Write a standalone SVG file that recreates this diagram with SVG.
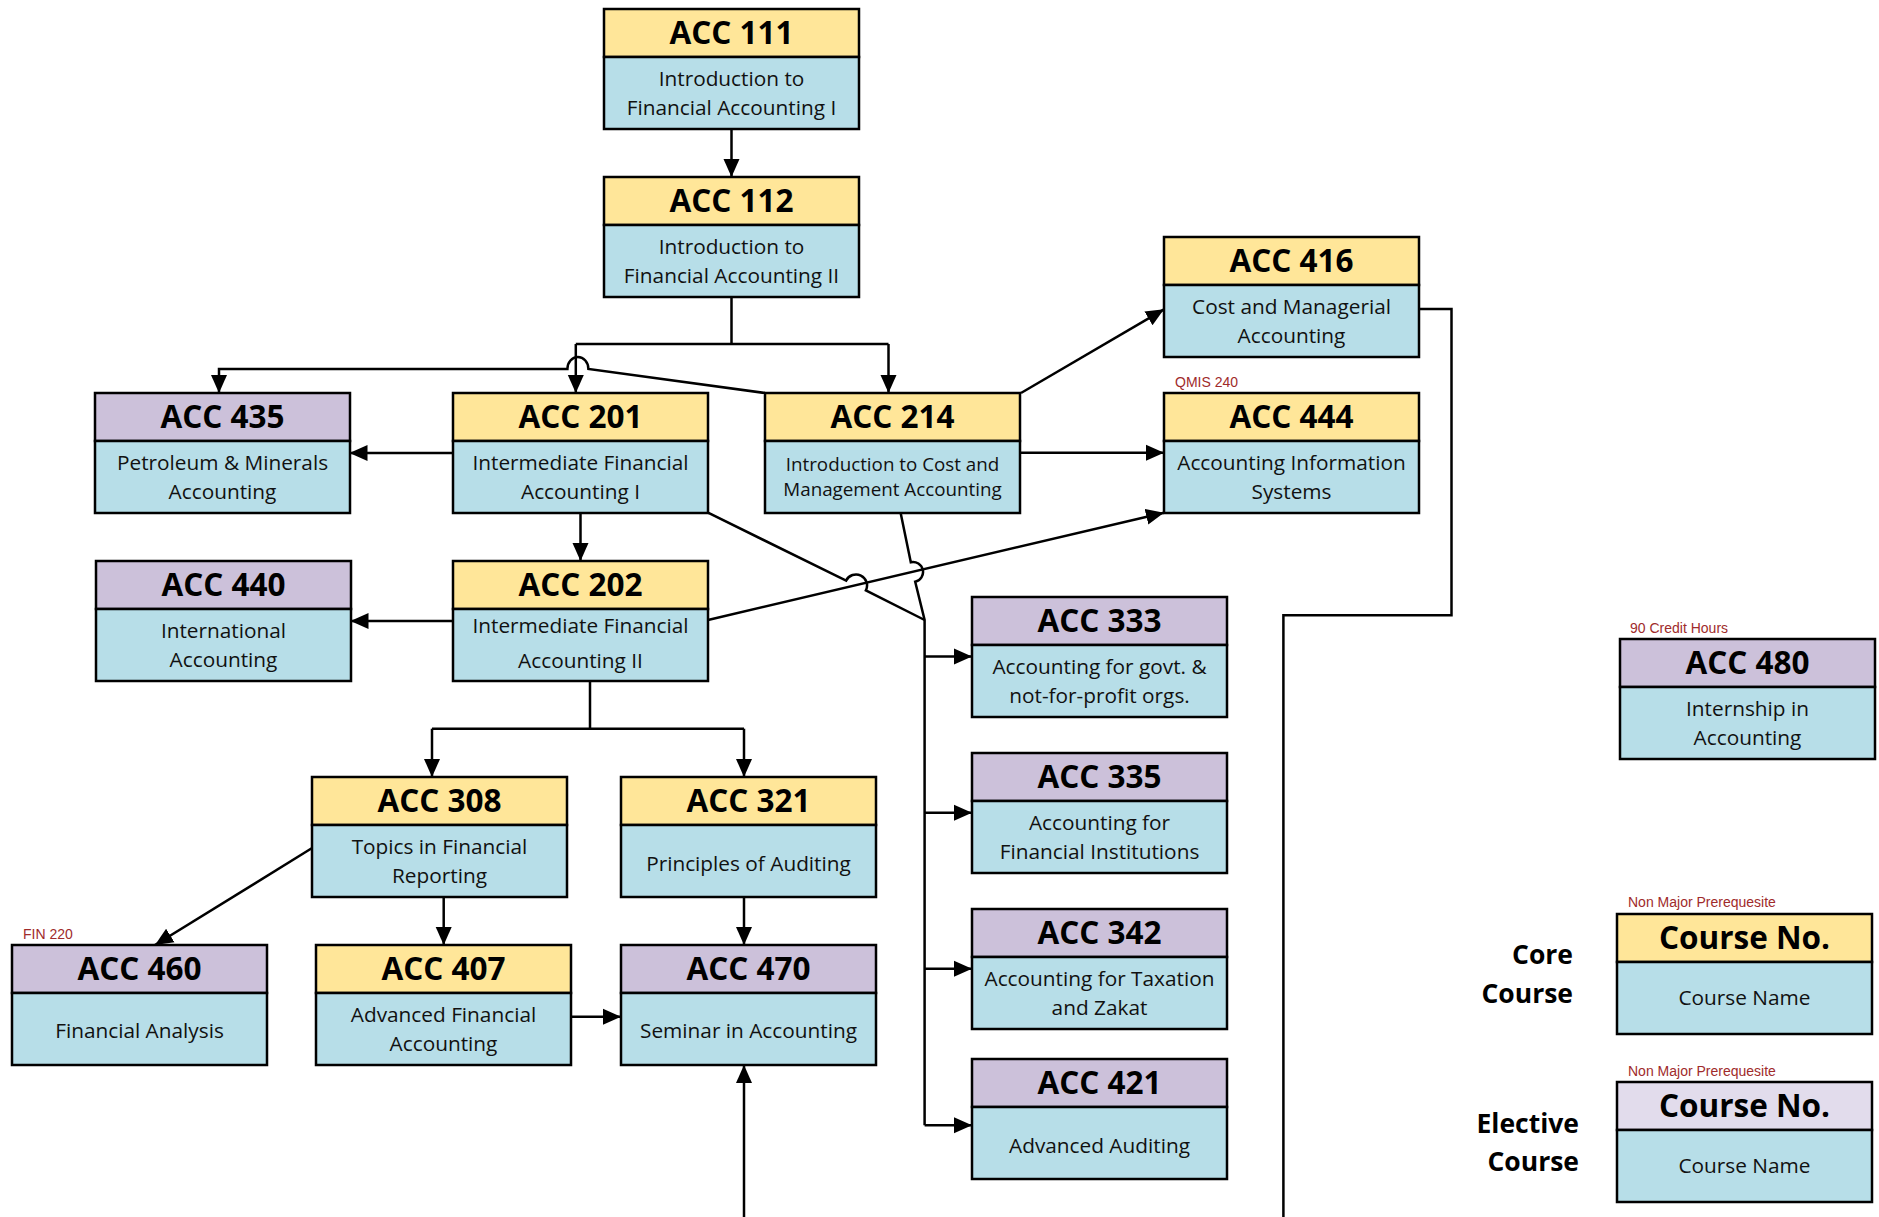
<svg xmlns="http://www.w3.org/2000/svg" width="1879" height="1217" viewBox="0 0 1879 1217">
<style>
.core{fill:#FFE699;stroke:#000;stroke-width:2.5}
.elec{fill:#CCC1DA;stroke:#000;stroke-width:2.5}
.elec2{fill:#E2DCEC;stroke:#000;stroke-width:2.5}
.body{fill:#B7DEE8;stroke:#000;stroke-width:2.5}
.h{font-family:"Open Sans","Liberation Sans",sans-serif;font-weight:700;font-size:31.5px;text-anchor:middle;fill:#000}
.t{font-family:"Open Sans","Liberation Sans",sans-serif;font-size:20.8px;text-anchor:middle;fill:#111}
.ts{font-family:"Open Sans","Liberation Sans",sans-serif;font-size:18.8px;text-anchor:middle;fill:#111}
.r{font-family:"Liberation Sans",Arial,sans-serif;font-size:14px;fill:#A02B2B}
.lg{font-family:"Open Sans","Liberation Sans",sans-serif;font-weight:700;font-size:26.5px;text-anchor:end;fill:#000}
.c{fill:none;stroke:#000;stroke-width:2.5}
.a{marker-end:url(#ah)}
</style>
<defs>
<marker id="ah" markerUnits="userSpaceOnUse" markerWidth="19" markerHeight="19" viewBox="0 0 19 19" refX="18" refY="9.5" orient="auto"><path d="M0,1.5 L18,9.5 L0,17.5 z" fill="#000"/></marker>
</defs>
<rect width="1879" height="1217" fill="#fff"/>
<g id="connectors">
<path class="c a" d="M731.5,129 V177"/>
<path class="c" d="M731.5,296 V344 M575.8,344 H888.5"/>
<path class="c a" d="M575.8,344 V393"/>
<path class="c a" d="M888.5,344 V393"/>
<path class="c a" d="M765,393 L588.4,369 A10.5,12 0 0 0 567.4,369 H219 V393"/>
<path class="c a" d="M453,453 H349.5"/>
<path class="c a" d="M580.5,513 V561"/>
<path class="c a" d="M453,621 H350.5"/>
<path class="c a" d="M1021,393 L1164,309.3"/>
<path class="c a" d="M1021,452.7 H1164"/>
<path class="c a" d="M708,620 L1164,512.7"/>
<path class="c" d="M708,512.7 L846.1,580.6 A11,11 0 0 1 865.9,590.4 L924.6,620"/>
<path class="c" d="M900.6,512.7 L910.8,562.2 A10,10 0 0 1 915.2,581.8 L924.6,620 V1125.3"/>
<path class="c a" d="M924.6,656.4 H972"/>
<path class="c a" d="M924.6,812.8 H972"/>
<path class="c a" d="M924.6,968.8 H972"/>
<path class="c a" d="M924.6,1125.3 H972"/>
<path class="c" d="M1419,309 H1451.5 V615.3 H1283.4 V1217"/>
<path class="c" d="M590,681 V728.7 M432,728.7 H744"/>
<path class="c a" d="M432,728.7 V777"/>
<path class="c a" d="M744,728.7 V777"/>
<path class="c a" d="M443.7,897 V945"/>
<path class="c a" d="M744,897 V945"/>
<path class="c a" d="M571,1016.7 H621"/>
<path class="c a" d="M311.7,848.3 L155,945"/>
<path class="c a" d="M744,1217 V1065"/>
</g>
<g id="acc111" transform="translate(604,9)"><rect class="core" width="255" height="48"/><rect class="body" y="48" width="255" height="72"/><text class="h" x="127.5" y="35">ACC 111</text><text class="t" x="127.5" y="77">Introduction to</text><text class="t" x="127.5" y="106">Financial Accounting I</text></g>
<g id="acc112" transform="translate(604,177)"><rect class="core" width="255" height="48"/><rect class="body" y="48" width="255" height="72"/><text class="h" x="127.5" y="35">ACC 112</text><text class="t" x="127.5" y="77">Introduction to</text><text class="t" x="127.5" y="106">Financial Accounting II</text></g>
<g id="acc435" transform="translate(95,393)"><rect class="elec" width="255" height="48"/><rect class="body" y="48" width="255" height="72"/><text class="h" x="127.5" y="35">ACC 435</text><text class="t" x="127.5" y="77">Petroleum &amp; Minerals</text><text class="t" x="127.5" y="106">Accounting</text></g>
<g id="acc201" transform="translate(453,393)"><rect class="core" width="255" height="48"/><rect class="body" y="48" width="255" height="72"/><text class="h" x="127.5" y="35">ACC 201</text><text class="t" x="127.5" y="77">Intermediate Financial</text><text class="t" x="127.5" y="106">Accounting I</text></g>
<g id="acc214" transform="translate(765,393)"><rect class="core" width="255" height="48"/><rect class="body" y="48" width="255" height="72"/><text class="h" x="127.5" y="35">ACC 214</text><text class="ts" x="127.5" y="77.5">Introduction to Cost and</text><text class="ts" x="127.5" y="103">Management Accounting</text></g>
<g id="acc416" transform="translate(1164,237)"><rect class="core" width="255" height="48"/><rect class="body" y="48" width="255" height="72"/><text class="h" x="127.5" y="35">ACC 416</text><text class="t" x="127.5" y="77">Cost and Managerial</text><text class="t" x="127.5" y="106">Accounting</text></g>
<g id="acc444" transform="translate(1164,393)"><text class="r" x="11" y="-6">QMIS 240</text><rect class="core" width="255" height="48"/><rect class="body" y="48" width="255" height="72"/><text class="h" x="127.5" y="35">ACC 444</text><text class="t" x="127.5" y="77">Accounting Information</text><text class="t" x="127.5" y="106">Systems</text></g>
<g id="acc440" transform="translate(96,561)"><rect class="elec" width="255" height="48"/><rect class="body" y="48" width="255" height="72"/><text class="h" x="127.5" y="35">ACC 440</text><text class="t" x="127.5" y="77">International</text><text class="t" x="127.5" y="106">Accounting</text></g>
<g id="acc202" transform="translate(453,561)"><rect class="core" width="255" height="48"/><rect class="body" y="48" width="255" height="72"/><text class="h" x="127.5" y="35">ACC 202</text><text class="t" x="127.5" y="72">Intermediate Financial</text><text class="t" x="127.5" y="107">Accounting II</text></g>
<g id="acc333" transform="translate(972,597)"><rect class="elec" width="255" height="48"/><rect class="body" y="48" width="255" height="72"/><text class="h" x="127.5" y="35">ACC 333</text><text class="t" x="127.5" y="77">Accounting for govt. &amp;</text><text class="t" x="127.5" y="106">not-for-profit orgs.</text></g>
<g id="acc335" transform="translate(972,753)"><rect class="elec" width="255" height="48"/><rect class="body" y="48" width="255" height="72"/><text class="h" x="127.5" y="35">ACC 335</text><text class="t" x="127.5" y="77">Accounting for</text><text class="t" x="127.5" y="106">Financial Institutions</text></g>
<g id="acc342" transform="translate(972,909)"><rect class="elec" width="255" height="48"/><rect class="body" y="48" width="255" height="72"/><text class="h" x="127.5" y="35">ACC 342</text><text class="t" x="127.5" y="77">Accounting for Taxation</text><text class="t" x="127.5" y="106">and Zakat</text></g>
<g id="acc421" transform="translate(972,1059)"><rect class="elec" width="255" height="48"/><rect class="body" y="48" width="255" height="72"/><text class="h" x="127.5" y="35">ACC 421</text><text class="t" x="127.5" y="94">Advanced Auditing</text></g>
<g id="acc480" transform="translate(1620,639)"><text class="r" x="10" y="-6">90 Credit Hours</text><rect class="elec" width="255" height="48"/><rect class="body" y="48" width="255" height="72"/><text class="h" x="127.5" y="35">ACC 480</text><text class="t" x="127.5" y="77">Internship in</text><text class="t" x="127.5" y="106">Accounting</text></g>
<g id="acc308" transform="translate(312,777)"><rect class="core" width="255" height="48"/><rect class="body" y="48" width="255" height="72"/><text class="h" x="127.5" y="35">ACC 308</text><text class="t" x="127.5" y="77">Topics in Financial</text><text class="t" x="127.5" y="106">Reporting</text></g>
<g id="acc321" transform="translate(621,777)"><rect class="core" width="255" height="48"/><rect class="body" y="48" width="255" height="72"/><text class="h" x="127.5" y="35">ACC 321</text><text class="t" x="127.5" y="94">Principles of Auditing</text></g>
<g id="acc460" transform="translate(12,945)"><text class="r" x="11" y="-6">FIN 220</text><rect class="elec" width="255" height="48"/><rect class="body" y="48" width="255" height="72"/><text class="h" x="127.5" y="35">ACC 460</text><text class="t" x="127.5" y="93">Financial Analysis</text></g>
<g id="acc407" transform="translate(316,945)"><rect class="core" width="255" height="48"/><rect class="body" y="48" width="255" height="72"/><text class="h" x="127.5" y="35">ACC 407</text><text class="t" x="127.5" y="77">Advanced Financial</text><text class="t" x="127.5" y="106">Accounting</text></g>
<g id="acc470" transform="translate(621,945)"><rect class="elec" width="255" height="48"/><rect class="body" y="48" width="255" height="72"/><text class="h" x="127.5" y="35">ACC 470</text><text class="t" x="127.5" y="93">Seminar in Accounting</text></g>
<g id="legend-core" transform="translate(1617,914)"><text class="lg" x="-44" y="50">Core</text><text class="lg" x="-44" y="88.5">Course</text><text class="r" x="11" y="-7">Non Major Prerequesite</text><rect class="core" width="255" height="48"/><rect class="body" y="48" width="255" height="72"/><text class="h" x="127.5" y="35">Course No.</text><text class="t" x="127.5" y="91">Course Name</text></g>
<g id="legend-elective" transform="translate(1617,1082)"><text class="lg" x="-38" y="50.5">Elective</text><text class="lg" x="-38" y="89">Course</text><text class="r" x="11" y="-6.5">Non Major Prerequesite</text><rect class="elec2" width="255" height="48"/><rect class="body" y="48" width="255" height="72"/><text class="h" x="127.5" y="35">Course No.</text><text class="t" x="127.5" y="91">Course Name</text></g>
</svg>
